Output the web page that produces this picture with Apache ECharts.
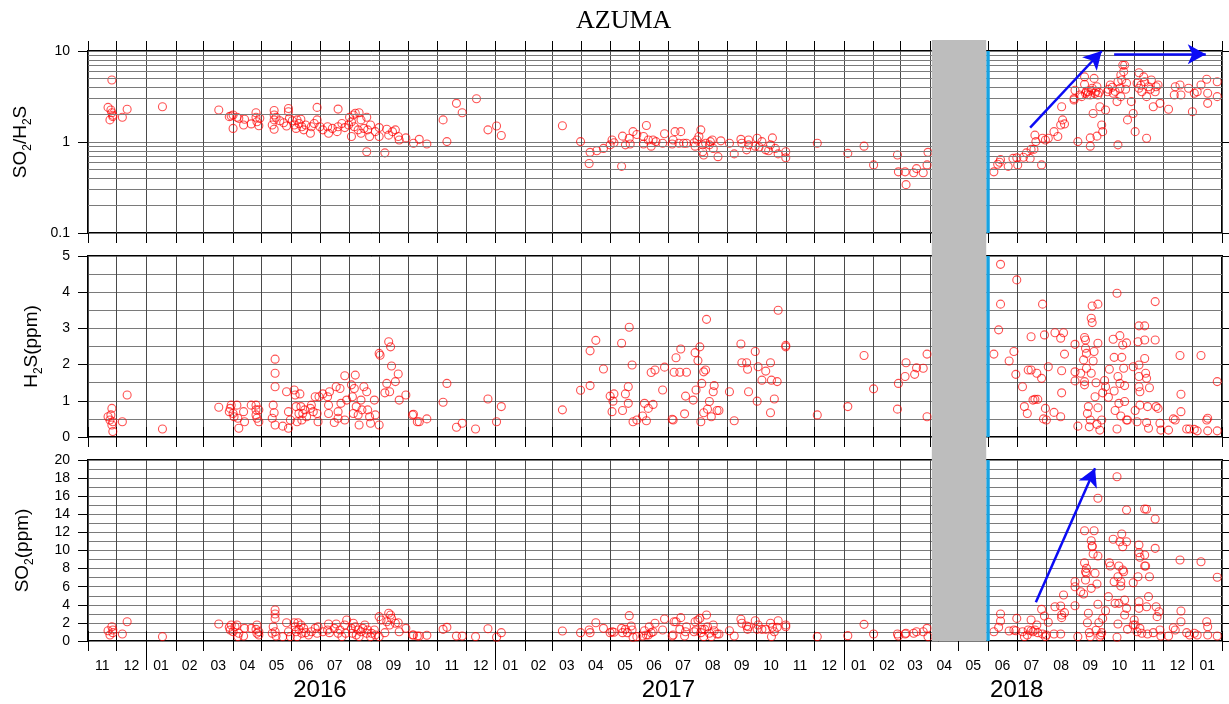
<!DOCTYPE html>
<html><head><meta charset="utf-8">
<script src="https://cdn.jsdelivr.net/npm/echarts@6/dist/echarts.min.js"></script>
<style>html,body{margin:0;padding:0;background:#fff}#c{width:1229px;height:704px}</style>
</head><body><div id="c"></div>
<script>
// ---------------- data ----------------
const chartTitle = 'AZUMA';
const axisRange = ['2015-11-01', '2019-02-01'];
const monthLabels = ['11','12','01','02','03','04','05','06','07','08','09','10','11','12',
  '01','02','03','04','05','06','07','08','09','10','11','12',
  '01','02','03','04','05','06','07','08','09','10','11','12','01'];
const yearLabels = ['2016', '2017', '2018'];
const yearLabelDates = ['2016-07-01', '2017-07-01', '2018-07-01'];
const yearTickDates = ['2016-01-01', '2017-01-01', '2018-01-01', '2019-01-01'];
const gapPeriod = ['2018-04-03', '2018-05-30'];
const restartDate = '2018-06-01';
const ratioMinorLines = [0.2,0.3,0.4,0.5,0.6,0.7,0.8,0.9,2,3,4,5,6,7,8,9];

const ratioData = [
['2015-11-22',2.4],['2015-11-25',2.25],['2015-11-26',2.1],['2015-11-24',1.75],['2015-11-27',1.97],['2015-11-27',1.9],['2015-11-26',4.8],
['2015-12-07',1.87],['2015-12-12',2.29],['2016-01-18',2.44],['2016-03-17',2.25],['2016-03-28',1.9],['2016-03-30',1.93],
['2016-04-01',1.98],['2016-04-01',1.41],['2016-04-05',1.87],['2016-04-07',1.82],['2016-04-13',1.78],['2016-04-12',1.54],['2016-04-20',1.58],
['2016-04-25',2.1],['2016-04-25',1.87],['2016-04-26',1.67],['2016-04-28',1.51],['2016-04-29',1.82],
['2016-05-14',2.22],['2016-05-14',1.98],['2016-05-14',1.75],['2016-05-12',1.54],['2016-05-14',1.38],['2016-05-16',1.87],['2016-05-20',1.71],
['2016-05-24',1.63],['2016-05-29',2.33],['2016-05-29',2.15],['2016-05-30',1.82],['2016-05-27',1.5],
['2016-06-02',1.71],['2016-06-04',1.54],['2016-06-06',1.41],['2016-06-07',1.75],['2016-06-09',1.6],['2016-06-11',1.78],['2016-06-12',1.47],
['2016-06-14',1.36],['2016-06-16',1.54],['2016-06-21',1.25],['2016-06-22',1.47],['2016-06-25',1.6],['2016-06-28',1.75],['2016-06-28',2.4],
['2016-07-01',1.47],['2016-07-04',1.36],['2016-07-09',1.47],['2016-07-10',1.25],['2016-07-14',1.41],['2016-07-19',1.3],['2016-07-20',2.3],
['2016-07-20',1.47],['2016-07-24',1.6],['2016-07-27',1.44],['2016-07-31',1.54],
['2016-08-01',1.87],['2016-08-03',1.67],['2016-08-03',1.15],['2016-08-05',1.98],['2016-08-07',2.07],['2016-08-06',1.47],['2016-08-10',1.36],
['2016-08-11',2.1],['2016-08-13',1.75],['2016-08-13',1.25],['2016-08-16',1.41],['2016-08-19',1.87],['2016-08-19',0.78],['2016-08-20',1.36],
['2016-08-22',1.15],['2016-08-23',1.54],['2016-08-28',1.3],
['2016-09-01',1.44],['2016-09-01',1.15],['2016-09-07',0.76],['2016-09-09',1.38],['2016-09-11',1.19],['2016-09-15',1.3],['2016-09-18',1.36],
['2016-09-21',1.15],['2016-09-22',1.05],['2016-09-29',1.11],['2016-10-07',0.97],['2016-10-13',1.07],['2016-10-21',0.95],
['2016-11-07',1.75],['2016-11-11',1.01],['2016-11-21',2.66],['2016-11-27',2.1],['2016-12-12',2.99],['2016-12-24',1.36],
['2017-01-02',1.5],['2017-01-07',1.18],['2017-03-12',1.51],['2017-03-31',1.01],
['2017-04-10',0.77],['2017-04-09',0.58],['2017-04-17',0.8],['2017-04-24',0.85],
['2017-05-01',0.93],['2017-05-03',1.05],['2017-05-05',0.98],['2017-05-13',0.54],['2017-05-14',1.16],['2017-05-17',0.93],['2017-05-21',1.1],
['2017-05-22',0.95],['2017-05-25',1.3],['2017-05-29',1.21],
['2017-06-05',1.15],['2017-06-05',0.95],['2017-06-08',1.52],['2017-06-10',1.05],['2017-06-13',0.9],['2017-06-15',1.05],['2017-06-18',1.01],
['2017-06-25',0.97],['2017-06-27',1.23],
['2017-07-05',0.95],['2017-07-06',1.05],['2017-07-08',1.3],['2017-07-14',1.3],['2017-07-12',0.97],['2017-07-17',0.97],['2017-07-20',0.97],
['2017-07-28',0.98],['2017-07-29',0.9],['2017-07-31',1.05],
['2017-08-02',1.15],['2017-08-04',1.36],['2017-08-06',0.93],['2017-08-06',0.78],['2017-08-07',0.72],['2017-08-09',0.97],['2017-08-13',0.93],
['2017-08-14',1.01],['2017-08-17',0.85],['2017-08-16',1.05],['2017-08-22',0.69],['2017-08-25',1.03],
['2017-09-03',0.97],['2017-09-08',0.74],['2017-09-15',1.07],['2017-09-16',0.97],['2017-09-21',0.82],['2017-09-23',1.05],['2017-09-23',0.93],
['2017-09-30',0.9],['2017-10-02',1.1],['2017-10-04',0.88],['2017-10-07',1.01],['2017-10-11',0.82],['2017-10-14',0.8],['2017-10-16',0.93],
['2017-10-18',1.11],['2017-10-21',0.85],['2017-10-24',0.74],['2017-11-01',0.78],['2017-11-01',0.67],['2017-12-04',0.97],
['2018-01-05',0.75],['2018-01-22',0.9],['2018-02-01',0.56],['2018-02-26',0.72],['2018-02-27',0.47],['2018-03-06',0.47],['2018-03-07',0.34],
['2018-03-15',0.46],['2018-03-18',0.51],['2018-03-25',0.46],['2018-03-29',0.56],['2018-03-30',0.77],
['2018-06-07',0.47],['2018-06-11',0.57],['2018-06-14',0.64],['2018-06-13',0.6],['2018-06-22',0.54],['2018-06-27',0.66],['2018-07-01',0.67],
['2018-07-02',0.56],['2018-07-08',0.68],['2018-07-11',0.76],['2018-07-15',0.66],['2018-07-16',0.83],['2018-07-19',0.83],['2018-07-20',1.19],
['2018-07-21',1.01],['2018-07-27',0.56],['2018-07-28',1.1],['2018-07-31',1.05],['2018-08-03',1.1],['2018-08-09',1.3],['2018-08-13',1.15],
['2018-08-16',1.54],['2018-08-18',1.75],['2018-08-20',1.58],['2018-08-17',2.44],['2018-08-30',2.9],['2018-08-30',3.0],['2018-08-31',3.7],
['2018-09-03',1.01],['2018-09-05',3.28],['2018-09-10',4.3],['2018-09-10',5.2],['2018-09-07',3.15],['2018-09-11',3.43],['2018-09-14',3.57],
['2018-09-16',3.28],['2018-09-17',3.7],['2018-09-20',5.0],['2018-09-21',3.43],['2018-09-23',4.05],['2018-09-24',3.28],['2018-09-19',2.06],
['2018-09-16',1.11],['2018-09-16',0.9],['2018-09-23',1.16],['2018-09-26',2.44],['2018-09-28',1.54],['2018-09-29',1.3],
['2018-09-12',3.6],['2018-09-13',3.3],['2018-09-18',3.9],['2018-09-22',3.6],['2018-09-25',3.5],
['2018-10-02',2.25],['2018-10-04',3.57],['2018-10-07',4.23],['2018-10-10',3.43],['2018-10-14',2.78],['2018-10-15',0.93],['2018-10-15',4.6],
['2018-10-17',3.9],['2018-10-18',5.45],['2018-10-18',3.15],['2018-10-20',7.0],['2018-10-22',7.0],['2018-10-21',5.93],['2018-10-24',4.42],
['2018-10-25',1.75],['2018-10-29',2.78],['2018-10-31',2.06],['2018-10-05',3.8],['2018-10-09',4.0],['2018-10-12',3.6],['2018-10-19',4.8],['2018-10-23',3.8],
['2018-11-02',1.3],['2018-11-04',4.42],['2018-11-06',3.9],['2018-11-06',5.77],['2018-11-09',3.57],['2018-11-11',5.2],['2018-11-12',4.6],
['2018-11-14',1.1],['2018-11-14',3.15],['2018-11-16',4.05],['2018-11-19',4.8],['2018-11-21',2.44],['2018-11-23',3.57],['2018-11-24',4.05],
['2018-11-26',4.23],['2018-11-28',2.66],['2018-11-08',4.2],['2018-11-18',3.8],
['2018-12-07',2.29],['2018-12-13',3.28],['2018-12-14',4.05],['2018-12-19',4.23],['2018-12-20',3.28],['2018-12-28',3.9],
['2019-01-01',2.15],['2019-01-03',3.43],['2019-01-06',3.57],['2019-01-10',4.23],['2019-01-16',4.9],['2019-01-17',3.43],['2019-01-17',2.66],
['2019-01-27',4.6],['2019-01-27',3.15]
];

const h2sData = [
['2015-11-22',0.56],['2015-11-24',0.47],['2015-11-26',0.79],['2015-11-25',0.61],['2015-11-26',0.33],['2015-11-27',0.15],['2015-11-27',0.42],
['2015-12-07',0.42],['2015-12-12',1.16],['2016-01-18',0.22],['2016-03-17',0.82],['2016-03-29',0.79],['2016-03-28',0.7],['2016-03-30',0.88],
['2016-04-01',0.65],['2016-04-02',0.56],['2016-04-05',0.88],['2016-04-06',0.52],['2016-04-07',0.24],['2016-04-13',0.42],['2016-04-12',0.7],
['2016-04-20',0.88],['2016-04-25',0.88],['2016-04-25',0.75],['2016-04-25',0.61],['2016-04-26',0.52],['2016-04-28',0.42],['2016-04-28',0.75],
['2016-05-15',2.15],['2016-05-15',1.76],['2016-05-15',1.39],['2016-05-13',0.88],['2016-05-14',0.67],['2016-05-12',0.52],['2016-05-15',0.33],
['2016-05-23',0.3],['2016-05-27',1.25],['2016-05-29',0.7],['2016-05-29',0.24],['2016-05-31',0.47],
['2016-06-04',1.3],['2016-06-05',1.16],['2016-06-06',0.84],['2016-06-07',0.42],['2016-06-09',0.65],['2016-06-10',1.19],['2016-06-11',0.84],
['2016-06-12',0.47],['2016-06-13',0.65],['2016-06-15',0.75],['2016-06-17',0.56],['2016-06-21',0.79],['2016-06-22',0.88],['2016-06-24',0.7],
['2016-06-26',1.11],['2016-06-28',0.65],['2016-06-29',0.42],['2016-06-30',1.11],
['2016-07-04',1.19],['2016-07-09',1.11],['2016-07-10',0.88],['2016-07-10',0.65],['2016-07-11',1.25],['2016-07-16',0.4],['2016-07-18',1.39],
['2016-07-20',0.7],['2016-07-20',0.52],['2016-07-22',1.34],['2016-07-23',0.93],['2016-07-27',1.69],['2016-07-29',1.02],['2016-07-27',0.47],
['2016-08-03',1.44],['2016-08-04',1.11],['2016-08-07',1.71],['2016-08-06',1.34],['2016-08-05',0.65],['2016-08-08',0.84],['2016-08-10',0.61],
['2016-08-11',0.33],['2016-08-13',1.02],['2016-08-14',0.75],['2016-08-16',1.39],['2016-08-19',1.25],['2016-08-20',0.75],['2016-08-22',0.56],
['2016-08-23',0.38],['2016-08-27',1.02],['2016-08-28',0.61],
['2016-09-01',2.31],['2016-09-02',2.26],['2016-09-01',0.33],['2016-09-07',1.22],['2016-09-09',1.48],['2016-09-11',2.63],['2016-09-13',2.49],
['2016-09-14',1.96],['2016-09-12',1.25],['2016-09-18',1.53],['2016-09-21',1.74],['2016-09-22',1.02],['2016-09-29',1.16],
['2016-10-06',0.61],['2016-10-11',0.42],['2016-10-07',0.63],['2016-10-13',0.42],['2016-10-21',0.5],
['2016-11-07',0.96],['2016-11-11',1.48],['2016-11-21',0.27],['2016-11-27',0.38],['2016-12-11',0.22],['2016-12-24',1.05],
['2017-01-02',0.42],['2017-01-07',0.84],['2017-03-12',0.75],['2017-03-31',1.29],
['2017-04-10',2.38],['2017-04-10',1.42],['2017-04-16',2.67],['2017-04-24',1.88],
['2017-05-01',1.13],['2017-05-03',0.7],['2017-05-04',0.99],['2017-05-05',1.19],['2017-05-13',2.59],['2017-05-14',0.73],['2017-05-17',1.19],
['2017-05-20',0.93],['2017-05-20',1.39],['2017-05-21',3.03],['2017-05-24',1.99],['2017-05-25',0.42],['2017-05-29',0.47],
['2017-06-04',0.58],['2017-06-06',0.93],['2017-06-08',0.45],['2017-06-10',0.79],['2017-06-13',1.78],['2017-06-15',0.9],['2017-06-17',1.85],
['2017-06-25',1.3],['2017-06-27',1.93],
['2017-07-05',0.49],['2017-07-06',0.47],['2017-07-07',1.79],['2017-07-09',2.19],['2017-07-14',2.43],['2017-07-13',1.79],['2017-07-18',0.64],
['2017-07-19',1.13],['2017-07-20',1.79],['2017-07-27',1.02],['2017-07-29',2.33],['2017-07-30',1.3],
['2017-08-01',2.11],['2017-08-03',2.49],['2017-08-04',0.42],['2017-08-05',1.48],['2017-08-07',1.8],['2017-08-07',0.67],['2017-08-09',1.85],
['2017-08-10',3.25],['2017-08-11',0.77],['2017-08-13',0.98],['2017-08-15',0.56],['2017-08-17',1.25],['2017-08-18',1.42],['2017-08-21',0.73],
['2017-08-23',0.73],
['2017-09-03',1.25],['2017-09-08',0.45],['2017-09-15',2.57],['2017-09-16',2.05],['2017-09-21',2.05],['2017-09-22',1.87],['2017-09-23',1.25],
['2017-09-30',2.36],['2017-10-02',0.99],['2017-10-03',1.94],['2017-10-07',1.57],['2017-10-11',1.82],['2017-10-16',2.05],['2017-10-17',1.57],
['2017-10-16',0.67],['2017-10-20',1.05],['2017-10-23',1.53],['2017-10-24',3.5],['2017-11-01',2.49],['2017-11-01',2.53],['2017-12-04',0.61],
['2018-01-05',0.84],['2018-01-22',2.25],['2018-02-01',1.33],['2018-02-26',0.77],['2018-02-27',1.48],['2018-03-06',1.67],['2018-03-07',2.05],
['2018-03-16',1.73],['2018-03-18',1.91],['2018-03-25',1.9],['2018-03-29',2.29],['2018-03-29',0.56],
['2018-06-07',2.29],['2018-06-12',2.96],['2018-06-14',4.77],['2018-06-14',3.67],['2018-06-23',2.1],['2018-06-28',2.36],['2018-06-30',1.73],
['2018-07-01',4.34],['2018-07-07',1.39],['2018-07-09',0.84],['2018-07-12',0.65],['2018-07-13',1.85],['2018-07-16',1.85],['2018-07-16',2.77],
['2018-07-18',1.02],['2018-07-20',1.04],['2018-07-23',1.04],['2018-07-22',1.76],['2018-07-27',1.62],['2018-07-28',3.67],['2018-07-30',2.82],
['2018-07-31',0.79],['2018-07-29',0.5],
['2018-08-01',0.47],['2018-08-03',1.94],['2018-08-09',0.68],['2018-08-10',2.88],['2018-08-16',0.56],['2018-08-16',2.73],['2018-08-17',1.83],
['2018-08-17',1.22],['2018-08-19',2.88],['2018-08-20',2.29],['2018-08-31',2.56],['2018-08-31',1.8],['2018-08-31',1.55],
['2018-09-03',0.3],['2018-09-06',1.76],['2018-09-09',2.13],['2018-09-10',2.75],['2018-09-11',2.68],['2018-09-11',2.45],['2018-09-12',2.31],
['2018-09-10',1.53],['2018-09-10',1.44],['2018-09-12',1.9],['2018-09-13',0.65],['2018-09-14',0.84],['2018-09-15',0.28],['2018-09-16',0.47],
['2018-09-17',3.28],['2018-09-18',3.62],['2018-09-17',1.76],['2018-09-19',2.1],['2018-09-18',3.16],['2018-09-20',2.36],['2018-09-21',1.11],
['2018-09-22',1.5],['2018-09-23',0.35],['2018-09-24',3.67],['2018-09-24',2.59],['2018-09-24',0.81],['2018-09-26',0.19],['2018-09-28',0.47],
['2018-09-29',1.22],
['2018-10-01',1.56],['2018-10-02',1.39],['2018-10-05',1.1],['2018-10-06',1.87],['2018-10-10',2.7],['2018-10-11',2.2],['2018-10-11',1.27],
['2018-10-12',0.73],['2018-10-14',3.97],['2018-10-14',0.22],['2018-10-15',1.67],['2018-10-16',0.93],['2018-10-17',2.8],['2018-10-17',1.48],
['2018-10-18',0.58],['2018-10-19',2.2],['2018-10-20',2.54],['2018-10-21',1.9],['2018-10-22',1.42],['2018-10-22',0.98],['2018-10-24',2.6],
['2018-10-24',0.47],['2018-10-25',0.47],['2018-10-31',1.94],
['2018-11-02',0.73],['2018-11-04',0.42],['2018-11-05',2.63],['2018-11-06',3.07],['2018-11-06',1.99],['2018-11-06',1.67],['2018-11-06',1.39],
['2018-11-07',1.25],['2018-11-07',0.88],['2018-11-12',2.68],['2018-11-12',3.07],['2018-11-12',2.17],['2018-11-13',1.76],['2018-11-14',1.62],
['2018-11-15',0.84],['2018-11-14',0.4],['2018-11-16',0.24],['2018-11-17',1.36],['2018-11-23',2.68],['2018-11-23',3.74],['2018-11-24',0.84],
['2018-11-26',0.79],['2018-11-28',0.38],['2018-11-29',0.19],
['2018-12-07',0.19],['2018-12-12',0.5],['2018-12-14',0.47],['2018-12-19',2.25],['2018-12-20',1.18],['2018-12-20',0.7],['2018-12-26',0.22],
['2018-12-29',0.22],['2019-01-03',0.21],['2019-01-06',0.17],['2019-01-10',2.25],['2019-01-16',0.47],['2019-01-17',0.52],['2019-01-17',0.17],
['2019-01-27',1.53],['2019-01-27',0.17]
];

const so2Data = [
['2015-11-22',1.14],['2015-11-24',0.66],['2015-11-26',1.58],['2015-11-27',0.92],['2015-11-27',1.22],['2015-12-07',0.77],['2015-12-12',2.13],
['2016-01-18',0.48],['2016-03-17',1.88],['2016-03-28',1.51],['2016-03-29',1.22],['2016-03-30',1.77],
['2016-04-01',1.03],['2016-04-03',1.58],['2016-04-05',1.77],['2016-04-06',0.48],['2016-04-07',0.85],['2016-04-13',1.4],['2016-04-12',0.55],
['2016-04-20',1.4],['2016-04-25',1.29],['2016-04-26',0.85],['2016-04-26',1.77],['2016-04-28',1.03],['2016-04-28',0.66],
['2016-05-15',3.43],['2016-05-15',2.98],['2016-05-15',2.5],['2016-05-13',1.58],['2016-05-12',0.85],['2016-05-15',1.03],['2016-05-16',0.55],
['2016-05-23',0.48],['2016-05-27',2.02],['2016-05-29',1.03],['2016-05-31',0.48],
['2016-06-04',2.02],['2016-06-05',1.58],['2016-06-06',1.03],['2016-06-07',0.48],['2016-06-08',2.02],['2016-06-09',1.29],['2016-06-11',1.77],
['2016-06-12',0.85],['2016-06-14',1.4],['2016-06-16',0.92],['2016-06-19',0.66],['2016-06-22',1.03],['2016-06-26',1.4],['2016-06-28',0.85],
['2016-06-29',1.58],
['2016-07-04',1.03],['2016-07-09',1.22],['2016-07-10',1.88],['2016-07-11',0.92],['2016-07-16',1.4],['2016-07-18',1.88],['2016-07-20',0.85],
['2016-07-22',1.22],['2016-07-24',0.48],['2016-07-27',1.77],['2016-07-29',2.32],['2016-07-28',0.85],
['2016-08-03',1.4],['2016-08-04',0.85],['2016-08-05',1.96],['2016-08-07',1.58],['2016-08-08',0.66],['2016-08-10',1.22],['2016-08-11',0.48],
['2016-08-13',1.03],['2016-08-15',1.4],['2016-08-17',1.77],['2016-08-19',0.85],['2016-08-20',1.22],['2016-08-23',0.48],['2016-08-24',0.85],
['2016-08-27',1.22],['2016-08-28',0.66],
['2016-09-01',2.69],['2016-09-03',2.32],['2016-09-01',0.48],['2016-09-07',0.92],['2016-09-09',2.13],['2016-09-11',3.06],['2016-09-13',2.87],
['2016-09-14',2.5],['2016-09-12',1.77],['2016-09-18',1.96],['2016-09-21',2.02],['2016-09-22',1.03],['2016-09-29',1.4],
['2016-10-06',0.66],['2016-10-11',0.55],['2016-10-07',0.66],['2016-10-13',0.55],['2016-10-21',0.63],
['2016-11-07',1.29],['2016-11-11',1.51],['2016-11-21',0.55],['2016-11-27',0.55],['2016-12-11',0.48],['2016-12-24',1.36],
['2017-01-02',0.41],['2017-01-07',0.92],['2017-03-12',1.1],['2017-03-31',0.92],
['2017-04-09',1.22],['2017-04-10',0.92],['2017-04-16',2.02],['2017-04-24',1.4],
['2017-05-01',0.92],['2017-05-03',1.03],['2017-05-05',0.96],['2017-05-13',1.4],['2017-05-14',0.92],['2017-05-17',1.29],['2017-05-19',0.92],
['2017-05-21',2.8],['2017-05-23',1.66],['2017-05-24',1.22],['2017-05-25',0.41],['2017-05-29',0.48],
['2017-06-04',0.55],['2017-06-06',1.14],['2017-06-08',0.66],['2017-06-10',0.66],['2017-06-11',1.58],['2017-06-13',0.92],['2017-06-15',1.03],
['2017-06-17',1.96],['2017-06-25',1.22],['2017-06-27',2.43],
['2017-07-05',0.55],['2017-07-06',0.66],['2017-07-07',2.13],['2017-07-09',2.13],['2017-07-14',2.58],['2017-07-13',1.29],['2017-07-18',0.55],
['2017-07-19',1.03],['2017-07-20',1.58],['2017-07-28',1.03],['2017-07-29',2.13],['2017-07-30',1.22],
['2017-08-01',2.32],['2017-08-03',2.5],['2017-08-04',0.92],['2017-08-05',1.29],['2017-08-07',0.48],['2017-08-08',1.29],['2017-08-10',2.87],
['2017-08-11',1.58],['2017-08-13',0.85],['2017-08-15',0.48],['2017-08-17',1.77],['2017-08-18',1.14],['2017-08-21',0.77],['2017-08-23',0.77],
['2017-09-03',1.14],['2017-09-08',0.55],['2017-09-15',2.4],['2017-09-16',1.96],['2017-09-21',1.66],['2017-09-22',1.29],['2017-09-23',1.58],
['2017-09-30',2.24],['2017-10-02',1.29],['2017-10-03',1.77],['2017-10-07',1.29],['2017-10-11',1.29],['2017-10-16',1.96],['2017-10-17',0.48],
['2017-10-18',1.51],['2017-10-20',1.03],['2017-10-23',1.51],['2017-10-24',2.24],['2017-11-01',1.77],['2017-11-01',1.58],['2017-12-04',0.48],
['2018-01-05',0.59],['2018-01-22',1.84],['2018-02-01',0.77],['2018-02-26',0.77],['2018-02-27',0.55],['2018-03-06',0.77],['2018-03-07',0.85],
['2018-03-15',0.85],['2018-03-18',1.03],['2018-03-25',1.03],['2018-03-29',1.4],['2018-03-30',0.48],
['2018-06-07',1.03],['2018-06-12',1.51],['2018-06-14',2.98],['2018-06-14',2.21],['2018-06-23',1.1],['2018-06-28',1.22],['2018-07-01',2.5],
['2018-06-30',1.14],['2018-07-07',1.03],['2018-07-09',0.48],['2018-07-12',0.66],['2018-07-13',1.22],['2018-07-16',1.14],['2018-07-16',2.32],
['2018-07-18',1.03],['2018-07-20',1.22],['2018-07-22',1.77],['2018-07-23',0.92],['2018-07-27',3.5],['2018-07-28',0.77],['2018-07-30',2.76],
['2018-07-31',0.48],
['2018-08-01',0.66],['2018-08-03',2.07],['2018-08-09',0.77],['2018-08-10',3.79],['2018-08-16',0.77],['2018-08-16',3.87],['2018-08-17',2.87],
['2018-08-17',2.58],['2018-08-19',5.08],['2018-08-20',3.13],['2018-08-31',6.55],['2018-08-31',6.0],['2018-08-31',3.9],
['2018-09-03',0.48],['2018-09-06',5.45],['2018-09-09',5.19],['2018-09-10',12.19],['2018-09-10',8.65],['2018-09-11',6.74],['2018-09-11',7.66],
['2018-09-12',8.03],['2018-09-12',7.48],['2018-09-13',2.02],['2018-09-14',3.06],['2018-09-15',0.92],['2018-09-16',0.48],['2018-09-17',11.08],
['2018-09-18',10.42],['2018-09-17',5.82],['2018-09-19',9.61],['2018-09-18',10.5],['2018-09-20',12.19],['2018-09-21',7.48],['2018-09-22',1.18],
['2018-09-23',6.3],['2018-09-24',15.77],['2018-09-24',9.39],['2018-09-24',4.06],['2018-09-25',2.02],['2018-09-26',0.48],['2018-09-27',0.66],
['2018-09-29',2.5],['2018-09-28',0.92],
['2018-10-02',3.35],['2018-10-05',4.9],['2018-10-06',8.65],['2018-10-07',8.29],['2018-10-10',11.24],['2018-10-11',6.55],['2018-10-12',4.16],
['2018-10-14',18.15],['2018-10-14',0.41],['2018-10-15',1.88],['2018-10-15',7.1],['2018-10-16',4.16],['2018-10-16',8.29],['2018-10-17',10.97],
['2018-10-18',6.55],['2018-10-18',6.08],['2018-10-19',11.82],['2018-10-20',7.85],['2018-10-20',10.42],['2018-10-21',7.66],['2018-10-22',2.87],
['2018-10-22',4.53],['2018-10-24',14.48],['2018-10-24',10.97],['2018-10-24',3.61],['2018-10-25',1.29],['2018-10-31',1.77],['2018-10-31',6.44],
['2018-11-01',2.32],['2018-11-02',1.77],['2018-11-04',1.03],['2018-11-05',7.1],['2018-11-06',4.34],['2018-11-06',10.61],['2018-11-06',9.76],
['2018-11-07',9.25],['2018-11-06',3.61],['2018-11-07',1.4],['2018-11-09',0.85],['2018-11-12',9.5],['2018-11-12',14.59],['2018-11-14',14.55],
['2018-11-12',8.29],['2018-11-13',8.29],['2018-11-14',3.79],['2018-11-15',0.77],['2018-11-17',7.1],['2018-11-16',4.9],['2018-11-21',0.92],
['2018-11-23',13.48],['2018-11-23',10.24],['2018-11-24',3.79],['2018-11-25',2.69],['2018-11-27',3.24],['2018-11-28',1.22],['2018-11-29',0.55],
['2018-12-07',0.55],['2018-12-12',1.47],['2018-12-14',1.22],['2018-12-19',8.95],['2018-12-20',3.31],['2018-12-20',2.13],['2018-12-26',0.92],
['2018-12-29',0.66],['2019-01-03',0.85],['2019-01-06',0.66],['2019-01-10',8.76],['2019-01-16',2.13],['2019-01-17',1.58],['2019-01-17',0.66],
['2019-01-27',7.04],['2019-01-27',0.55]
];

const ratioArrows = [
  [['2018-07-15', 1.44], ['2018-09-28', 10]],
  [['2018-10-11', 9.2], ['2019-01-15', 9.2]]
];
const so2Arrows = [
  [['2018-07-21', 4.28], ['2018-09-21', 19.1]]
];

// ---------------- helpers ----------------
function toTime(s) { const p = s.split('-').map(Number); return new Date(p[0], p[1] - 1, p[2]).getTime(); }
const tMin = toTime(axisRange[0]), tMax = toTime(axisRange[1]);
const monthStarts = [];
for (let i = 0; i <= monthLabels.length; i++) monthStarts.push(new Date(2015, 10 + i, 1).getTime());
const monthMids = monthLabels.map((_, i) => (monthStarts[i] + monthStarts[i + 1]) / 2);
const yearLabelTimes = yearLabelDates.map(toTime);
const yearTickTimes = yearTickDates.map(toTime);
function nearestIndex(arr, v) {
  let best = -1, bd = Infinity;
  arr.forEach((a, i) => { const d = Math.abs(a - v); if (d < bd) { bd = d; best = i; } });
  return bd < 5 * 86400000 ? best : -1;
}

const FONT = 'Liberation Sans';
const GRID_V = '#4a4a4a', GRID_H = '#7a7a7a';
const ARROW = '#0b0bf5', RESTART = '#17a3e2';

const grids = [
  { left: 88, right: 7, top: 51, height: 182 },
  { left: 88, right: 7, top: 256, height: 181 },
  { left: 88, right: 7, top: 460, height: 181 }
].map(g => Object.assign(g, { show: true, borderColor: '#000', borderWidth: 2, backgroundColor: 'transparent', outerBoundsMode: 'none', containLabel: false }));

// x axes are linear in time (timestamps in ms)
const xAxis = [];
for (let g = 0; g < 3; g++) {
  xAxis.push({
    type: 'value', gridIndex: g, position: 'bottom', min: tMin, max: tMax, scale: true,
    axisLine: { show: false },
    axisTick: { show: true, inside: false, length: 10, customValues: monthStarts, lineStyle: { color: '#000', width: 1 } },
    splitLine: { show: true, lineStyle: { color: GRID_V, width: 1, type: 'solid' } },
    axisLabel: g === 2 ? {
      show: true, customValues: monthMids, margin: 18, fontSize: 14, fontFamily: FONT, color: '#000',
      formatter: (v) => { const i = nearestIndex(monthMids, +v); return i >= 0 ? monthLabels[i] : ''; }
    } : { show: false }
  });
  xAxis.push({
    type: 'value', gridIndex: g, position: 'top', min: tMin, max: tMax, scale: true,
    axisLine: { show: false },
    axisTick: { show: true, inside: false, length: 10, customValues: monthStarts, lineStyle: { color: '#000', width: 1 } },
    splitLine: { show: false }, axisLabel: { show: false }
  });
}
xAxis.push({
  type: 'value', gridIndex: 2, position: 'bottom', min: tMin, max: tMax, scale: true,
  axisLine: { show: false },
  axisTick: { show: true, inside: false, length: 29, customValues: yearTickTimes, lineStyle: { color: '#000', width: 1 } },
  splitLine: { show: false },
  axisLabel: {
    show: true, customValues: yearLabelTimes, margin: 37, fontSize: 24, fontFamily: FONT, color: '#000',
    formatter: (v) => { const i = nearestIndex(yearLabelTimes, +v); return i >= 0 ? yearLabels[i] : ''; }
  }
});

function nameStyle() {
  return {
    fontFamily: FONT, fontSize: 19, color: '#000',
    rich: {
      a: { fontFamily: FONT, fontSize: 19, lineHeight: 26, color: '#000' },
      s: { fontFamily: FONT, fontSize: 12, lineHeight: 14, verticalAlign: 'bottom', color: '#000' }
    }
  };
}
const leftTick = { show: true, inside: false, length: 10, lineStyle: { color: '#000', width: 1 } };
const rightTick = { show: true, inside: false, length: 8, lineStyle: { color: '#000', width: 1 } };
const tickLabel = { fontSize: 14, fontFamily: FONT, color: '#000', margin: 18 };

const yAxis = [
  { type: 'log', logBase: 10, gridIndex: 0, position: 'left', min: 0.1, max: 10,
    name: '{a|SO}{s|2}{a|/H}{s|2}{a|S}', nameLocation: 'middle', nameGap: 54, nameRotate: 90, nameTextStyle: nameStyle(),
    axisLine: { show: false }, axisTick: leftTick,
    axisLabel: Object.assign({ formatter: (v) => String(+(+v).toPrecision(3)) }, tickLabel),
    splitLine: { show: true, lineStyle: { color: GRID_H, width: 1 } } },
  { type: 'log', logBase: 10, gridIndex: 0, position: 'right', min: 0.1, max: 10,
    axisLine: { show: false }, axisTick: rightTick, axisLabel: { show: false }, splitLine: { show: false } },
  { type: 'value', gridIndex: 1, position: 'left', min: 0, max: 5, interval: 1,
    name: '{a|H}{s|2}{a|S(ppm)}', nameLocation: 'middle', nameGap: 43, nameRotate: 90, nameTextStyle: nameStyle(),
    axisLine: { show: false }, axisTick: leftTick, axisLabel: tickLabel,
    minorTick: { show: false, splitNumber: 2 },
    splitLine: { show: true, lineStyle: { color: GRID_H, width: 1 } },
    minorSplitLine: { show: true, lineStyle: { color: GRID_H, width: 1 } } },
  { type: 'value', gridIndex: 1, position: 'right', min: 0, max: 5, interval: 1,
    axisLine: { show: false }, axisTick: rightTick, axisLabel: { show: false }, splitLine: { show: false } },
  { type: 'value', gridIndex: 2, position: 'left', min: 0, max: 20, interval: 2,
    name: '{a|SO}{s|2}{a|(ppm)}', nameLocation: 'middle', nameGap: 52, nameRotate: 90, nameTextStyle: nameStyle(),
    axisLine: { show: false }, axisTick: leftTick, axisLabel: tickLabel,
    minorTick: { show: false, splitNumber: 2 },
    splitLine: { show: true, lineStyle: { color: GRID_H, width: 1 } },
    minorSplitLine: { show: true, lineStyle: { color: GRID_H, width: 1 } } },
  { type: 'value', gridIndex: 2, position: 'right', min: 0, max: 20, interval: 2,
    axisLine: { show: false }, axisTick: rightTick, axisLabel: { show: false }, splitLine: { show: false } }
];

const pointStyle = { color: 'rgba(0,0,0,0)', borderColor: 'rgba(255,0,0,0.85)', borderWidth: 1.1 };
function scatter(g, data) {
  return {
    type: 'scatter', xAxisIndex: 2 * g, yAxisIndex: 2 * g, z: 3,
    symbol: 'circle', symbolSize: 8, itemStyle: pointStyle,
    data: data.map(d => [toTime(d[0]), d[1]])
  };
}
function lineHelper(g, z, markLine) {
  return { type: 'scatter', xAxisIndex: 2 * g, yAxisIndex: 2 * g, z: z, data: [], silent: true,
    markLine: Object.assign({ silent: true, animation: false, label: { show: false }, emphasis: { disabled: true } }, markLine) };
}
function arrowLines(arr) {
  return arr.map(a => [{ coord: [toTime(a[0][0]), a[0][1]] }, { coord: [toTime(a[1][0]), a[1][1]] }]);
}

const series = [
  lineHelper(0, 1, { symbol: 'none', lineStyle: { color: GRID_H, width: 1, type: 'solid' }, data: ratioMinorLines.map(v => ({ yAxis: v })) }),
  scatter(0, ratioData),
  scatter(1, h2sData),
  scatter(2, so2Data)
];
for (let g = 0; g < 3; g++) {
  series.push(lineHelper(g, 5, { symbol: 'none', lineStyle: { color: RESTART, width: 3.5, type: 'solid' }, data: [{ xAxis: toTime(restartDate) }] }));
}
series.push(lineHelper(0, 6, { symbol: ['none', 'arrow'], symbolSize: [15, 18], lineStyle: { color: ARROW, width: 2.5, type: 'solid' }, data: arrowLines(ratioArrows) }));
series.push(lineHelper(2, 6, { symbol: ['none', 'arrow'], symbolSize: [15, 18], lineStyle: { color: ARROW, width: 2.5, type: 'solid' }, data: arrowLines(so2Arrows) }));

const option = {
  animation: false,
  backgroundColor: '#fff',
  title: { text: chartTitle, left: 576, top: 8, padding: 0,
    textStyle: { fontFamily: 'Liberation Serif', fontSize: 26, fontWeight: 'normal', color: '#000' } },
  grid: grids, xAxis: xAxis, yAxis: yAxis, series: series
};

const chart = echarts.init(document.getElementById('c'), null, { renderer: 'canvas' });
chart.setOption(option);

// grey band for the observation gap, positioned through the axes
const xa = chart.convertToPixel({ xAxisIndex: 0 }, toTime(gapPeriod[0]));
const xb = chart.convertToPixel({ xAxisIndex: 0 }, toTime(gapPeriod[1]));
const yTop = chart.convertToPixel({ yAxisIndex: 0 }, 10) - 11;
const yBot = chart.convertToPixel({ yAxisIndex: 4 }, 0);
chart.setOption({ graphic: [{ type: 'rect', z: 100, silent: true,
  shape: { x: xa, y: yTop, width: xb - xa, height: yBot - yTop }, style: { fill: '#bdbdbd' } }] });
</script></body></html>
